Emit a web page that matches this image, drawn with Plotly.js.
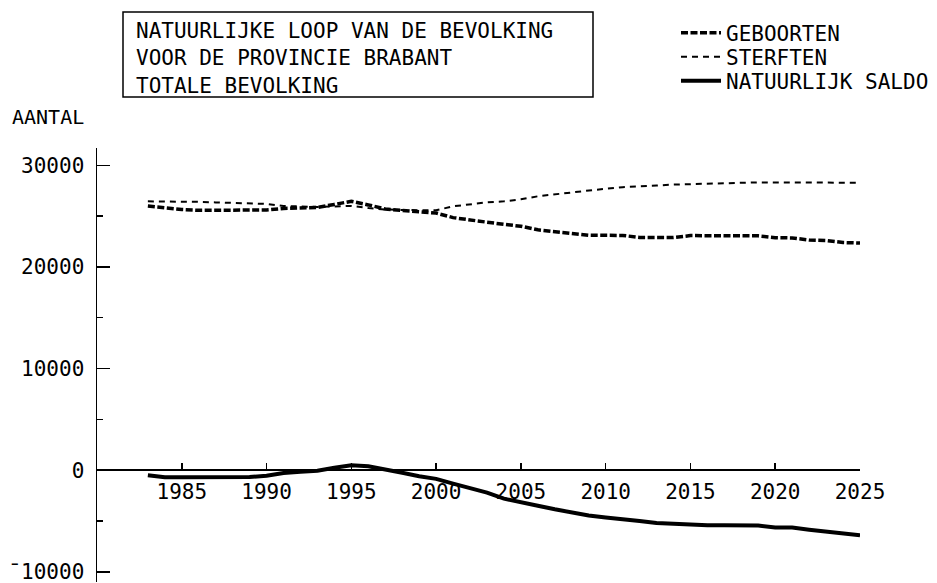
<!DOCTYPE html>
<html>
<head>
<meta charset="utf-8">
<script src="https://cdn.plot.ly/plotly-3.0.1.min.js"></script>
<style>html,body{margin:0;padding:0;background:#fff;}</style>
</head>
<body>
<div id="chart" style="width:937px;height:583px;"></div>
<script>
// ---- data ----
const years = [1983,1984,1985,1986,1987,1988,1989,1990,1991,1992,1993,1994,1995,1996,1997,1998,1999,2000,2001,2002,2003,2004,2005,2006,2007,2008,2009,2010,2011,2012,2013,2014,2015,2016,2017,2018,2019,2020,2021,2022,2023,2024,2025];
const geboorten = [25990,25800,25650,25570,25570,25570,25570,25600,25750,25800,25850,26150,26450,26100,25700,25550,25400,25300,24850,24600,24400,24190,24000,23650,23480,23300,23120,23110,23100,22900,22880,22900,23080,23080,23080,23080,23060,22880,22850,22650,22600,22400,22350];
const sterften = [26450,26450,26450,26400,26350,26300,26250,26200,26000,25950,25900,25950,26000,25800,25650,25600,25580,25570,25960,26150,26350,26450,26650,26950,27150,27350,27500,27700,27850,27900,28000,28100,28150,28190,28250,28320,28320,28300,28290,28290,28290,28290,28290];
const saldo = [-490,-690,-700,-700,-700,-700,-680,-550,-280,-150,-50,250,480,380,100,-250,-600,-850,-1320,-1750,-2200,-2800,-3200,-3500,-3850,-4200,-4450,-4650,-4780,-5000,-5200,-5300,-5400,-5420,-5420,-5430,-5450,-5630,-5650,-5850,-6050,-6250,-6390];
const seriesNames = ['GEBOORTEN','STERFTEN','NATUURLIJK SALDO'];
const titleLines = ['NATUURLIJKE LOOP VAN DE BEVOLKING','VOOR DE PROVINCIE BRABANT','TOTALE BEVOLKING'];
const yLabel = 'AANTAL';
const yTickVals = [-10000,0,10000,20000,30000];
const yTickText = ['\u00AF10000','0','10000','20000','30000'];
const xTickVals = [1985,1990,1995,2000,2005,2010,2015,2020,2025];
const xMajorVals = [1990,2000,2010,2020];

// ---- layout geometry ----
const W = 937, H = 583;
const M = {l:97, r:77, t:148, b:1, autoexpand:false};
const yRange = [-11000, 31700];
const xRange = [1980, 2025];
const plotW = W - M.l - M.r, plotH = H - M.t - M.b;
const px = x => (x - M.l) / plotW;
const py = y => (H - M.b - y) / plotH;
const zeroPos = (0 - yRange[0]) / (yRange[1] - yRange[0]);
const FONT = 'DejaVu Sans Mono';

const legendRowsY = [33, 57, 81];
const legendBase = {x: 676/W, xref:'container', yref:'container',
  xanchor:'left', yanchor:'middle', bgcolor:'rgba(0,0,0,0)', borderwidth:0,
  itemwidth: 40, font:{family:FONT, size:21, color:'#000'}};

const traces = [
  {x: years, y: geboorten, name: seriesNames[0], mode:'lines', legend:'legend',
   line:{color:'#000', width:3.5, dash:'7px,2.5px'}},
  {x: years, y: sterften, name: seriesNames[1], mode:'lines', legend:'legend2',
   line:{color:'#000', width:2, dash:'6px,5px'}},
  {x: years, y: saldo, name: seriesNames[2], mode:'lines', legend:'legend3',
   line:{color:'#000', width:4}}
];

const layout = {
  width: W, height: H,
  margin: M,
  paper_bgcolor:'#fff', plot_bgcolor:'#fff',
  font: {family: FONT, size: 21, color:'#000'},
  showlegend: true,
  legend: Object.assign({}, legendBase, {y: 1 - legendRowsY[0]/H}),
  legend2: Object.assign({}, legendBase, {y: 1 - legendRowsY[1]/H}),
  legend3: Object.assign({}, legendBase, {y: 1 - legendRowsY[2]/H}),
  xaxis: {range: xRange, anchor:'free', position: zeroPos, side:'bottom',
          showline:true, linecolor:'#000', linewidth:2,
          tickmode:'array', tickvals: xTickVals, ticks:'inside', ticklen:6, tickwidth:1.5, tickcolor:'#000',
          showgrid:false, zeroline:false, ticklabelstandoff: 3, automargin:false,
          tickfont:{family:FONT, size:21, color:'#000'}},
  xaxis2: {range: xRange, overlaying:'x', anchor:'free', position: zeroPos, side:'bottom',
           showline:false, tickmode:'array', tickvals: xMajorVals, ticks:'inside', ticklen:12,
           tickwidth:1.5, tickcolor:'#000', showticklabels:false, showgrid:false, zeroline:false, automargin:false},
  yaxis: {range: yRange, showline:true, linecolor:'#000', linewidth:1.5,
          tickmode:'array', tickvals: yTickVals, ticktext: yTickText,
          ticks:'inside', ticklen:13, tickwidth:1.5, tickcolor:'#000',
          minor:{dtick:5000, tick0:0, ticks:'inside', ticklen:6, tickwidth:1.5, tickcolor:'#000', showgrid:false},
          showgrid:false, zeroline:false, ticklabelstandoff: 7, automargin:false,
          ticklabeloverflow:'allow',
          tickfont:{family:FONT, size:21, color:'#000'}},
  shapes: [
    {type:'rect', xref:'paper', yref:'paper', x0: px(123), x1: px(593), y0: py(97), y1: py(12),
     line:{color:'#000', width:1.5}, fillcolor:'rgba(0,0,0,0)'}
  ],
  annotations: [
    {xref:'paper', yref:'paper', x: px(134), y: py(17), xanchor:'left', yanchor:'top',
     align:'left', showarrow:false, text: titleLines.join('<br>'),
     font:{family:FONT, size:21, color:'#000'}},
    {xref:'paper', yref:'paper', x: px(10), y: py(117), xanchor:'left', yanchor:'middle',
     showarrow:false, text: yLabel, font:{family:FONT, size:20, color:'#000'}}
  ]
};

Plotly.newPlot('chart', traces, layout, {staticPlot:true, displayModeBar:false});
</script>
</body>
</html>
